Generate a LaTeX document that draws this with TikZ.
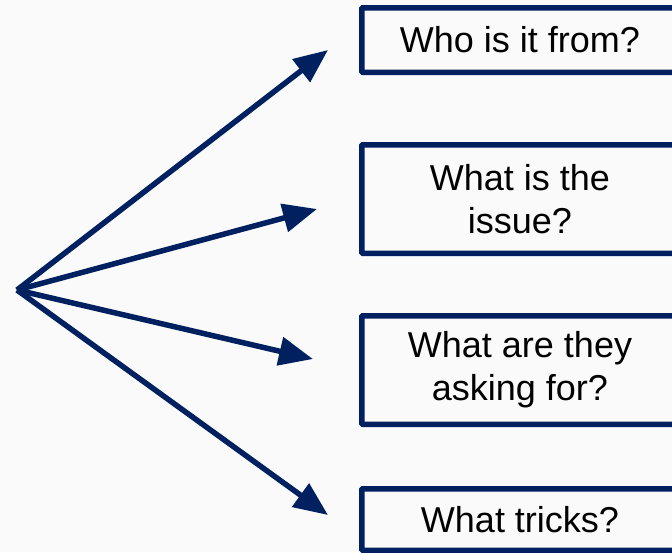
\documentclass[tikz,border=0pt]{standalone}
\usepackage{fontspec}
\setmainfont{Liberation Sans}
\usetikzlibrary{arrows.meta}
\definecolor{navy}{HTML}{002060}
\definecolor{bg}{HTML}{FAFAFA}
\begin{document}
\begin{tikzpicture}[x=1pt,y=-1pt,
  qbox/.style={draw=navy, line width=5.5pt, fill=bg, rounded corners=1pt,
    minimum width=316.5pt, inner sep=0pt, align=center,
    font=\fontsize{36}{43}\selectfont, text=black},
  ray/.style={draw=navy, line width=5.5pt, -{Triangle[length=34pt,width=28pt]}}]
\fill[bg] (0,0) rectangle (672,552);
\useasboundingbox (0,0) rectangle (672,552);
\node[qbox, minimum height=64.5pt] (b1) at (520,40) {Who is it from?};
\node[qbox, minimum height=108.5pt] (b2) at (520,199) {What is the\\issue?};
\node[qbox, minimum height=108.5pt] (b3) at (520,370) {What are they\\asking for?};
\node[qbox, minimum height=61.5pt] (b4) at (520,519.5) {What tricks?};
\coordinate (hub) at (17,290);
\coordinate (t1) at (328,50);
\coordinate (t2) at (317,209);
\coordinate (t3) at (313,359);
\coordinate (t4) at (328,515);
\draw[ray] (hub) -- (t1);
\draw[ray] (hub) -- (t2);
\draw[ray] (hub) -- (t3);
\draw[ray] (hub) -- (t4);
\end{tikzpicture}
\end{document}
